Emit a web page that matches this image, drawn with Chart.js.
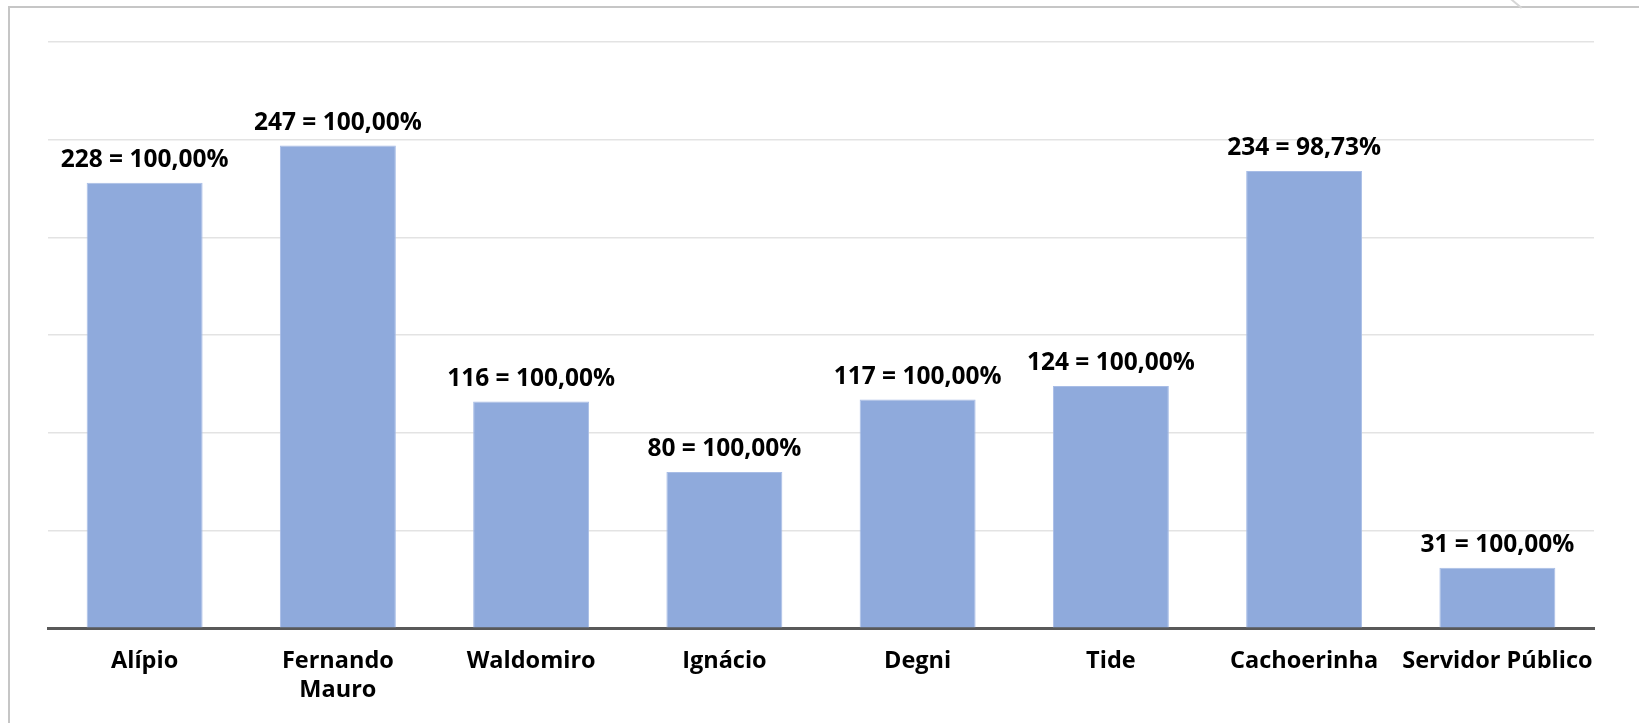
<!DOCTYPE html>
<html>
<head>
<meta charset="utf-8">
<script src="https://cdn.jsdelivr.net/npm/chart.js@4/dist/chart.umd.min.js"></script>
<style>
  html, body { margin: 0; padding: 0; background: #fff; }
  #wrap { position: relative; width: 1639px; height: 723px; overflow: hidden; }
  #frame { position: absolute; left: 8px; top: 6px; width: 1700px; height: 800px; border: 2px solid #c6c6c6; box-sizing: border-box; }
  #curl { position: absolute; left: 1510px; top: -3px; width: 16px; height: 2px; background: #d6d6d6; transform: rotate(40deg); transform-origin: left top; }
  canvas { position: absolute; left: 0; top: 0; }
</style>
</head>
<body>
<div id="wrap">
  <div id="frame"></div>
  <div id="curl"></div>
  <canvas id="chart" width="1639" height="723"></canvas>
</div>
<script>
    // Dados
    var categorias = ['Alípio', ['Fernando', 'Mauro'], 'Waldomiro', 'Ignácio', 'Degni', 'Tide', 'Cachoerinha', 'Servidor Público'];
    var quantidades = [228, 247, 116, 80, 117, 124, 234, 31];
    var percentuais = ['100,00%', '100,00%', '100,00%', '100,00%', '100,00%', '100,00%', '98,73%', '100,00%'];
    var escalaMax = 300;
    var escalaPasso = 50;

    var fonte = '"Open Sans", "Noto Sans", sans-serif';

    // Rótulos "valor = percentual" acima das barras
    var rotulos = {
        id: 'rotulos',
        afterDatasetsDraw: function (chart) {
            var ctx = chart.ctx;
            var meta = chart.getDatasetMeta(0);
            ctx.save();
            ctx.font = 'bold 24.5px ' + fonte;
            ctx.fillStyle = '#000';
            ctx.textAlign = 'center';
            ctx.textBaseline = 'middle';
            meta.data.forEach(function (bar, i) {
                ctx.fillText(quantidades[i] + ' = ' + percentuais[i], bar.x, bar.y - 23);
            });
            ctx.restore();
        }
    };

    new Chart(document.getElementById('chart'), {
        type: 'bar',
        data: {
            labels: categorias,
            datasets: [{
                data: quantidades,
                backgroundColor: '#8faadc',
                borderColor: '#a8bde6',
                borderWidth: 1,
                barPercentage: 0.6,
                categoryPercentage: 1
            }]
        },
        options: {
            responsive: false,
            animation: false,
            events: [],
            layout: { padding: { left: 48, right: 45, top: 42, bottom: 0 } },
            plugins: { legend: { display: false }, tooltip: { enabled: false } },
            scales: {
                x: {
                    grid: { display: false, drawTicks: false },
                    border: { display: true, color: '#595959', width: 3 },
                    ticks: {
                        padding: 18,
                        color: '#000',
                        maxRotation: 0,
                        autoSkip: false,
                        font: { family: fonte, size: 23.5, weight: 'bold', lineHeight: 1.25 }
                    }
                },
                y: {
                    min: 0,
                    max: escalaMax,
                    ticks: { display: false, stepSize: escalaPasso },
                    grid: { color: '#e3e3e3', lineWidth: 1.5, drawTicks: false },
                    border: { display: false }
                }
            }
        },
        plugins: [rotulos]
    });
</script>
</body>
</html>
